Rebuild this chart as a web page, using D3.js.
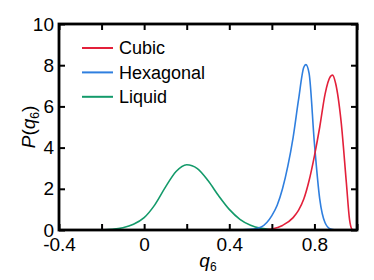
<!DOCTYPE html>
<html>
<head>
<meta charset="utf-8">
<script src="https://cdn.jsdelivr.net/npm/d3@7"></script>
<style>
  body { margin: 0; background: #fff; }
  text { font-family: "Liberation Sans", Arial, sans-serif; fill: #000; }
</style>
</head>
<body>
<div id="chart"></div>
<script>
// values
const cubicQ = [0.55, 0.6, 0.65, 0.7, 0.725, 0.75, 0.775, 0.8, 0.825, 0.85, 0.875, 0.885, 0.9, 0.925, 0.95, 0.965, 0.975, 0.98];
const cubicP = [0.0, 0.05, 0.22, 0.6, 0.95, 1.5, 2.4, 3.6, 5.0, 6.6, 7.45, 7.52, 7.1, 5.3, 2.3, 0.5, 0.05, 0.0];

const hexQ = [0.45, 0.5, 0.55, 0.6, 0.625, 0.65, 0.675, 0.7, 0.725, 0.75, 0.76, 0.775, 0.8, 0.825, 0.85, 0.875, 0.9];
const hexP = [0.0, 0.03, 0.15, 0.7, 1.2, 2.0, 3.1, 4.5, 6.3, 7.9, 8.03, 7.6, 4.2, 1.5, 0.35, 0.05, 0.0];

const liqQ = [-0.2, -0.15, -0.1, -0.05, 0.0, 0.05, 0.1, 0.15, 0.2, 0.25, 0.3, 0.35, 0.4, 0.45, 0.5, 0.55, 0.6, 0.65];
const liqP = [0.0, 0.03, 0.11, 0.28, 0.6, 1.22, 2.08, 2.84, 3.17, 2.98, 2.4, 1.66, 1.0, 0.52, 0.23, 0.08, 0.02, 0.0];

const seriesNames = ["Cubic", "Hexagonal", "Liquid"];
const colors = ["#e3203a", "#2f7fdf", "#139a6a"];
const xTicks = [-0.4, -0.2, 0, 0.2, 0.4, 0.6, 0.8, 1.0];
const xTickLabels = ["-0.4", "", "0", "", "0.4", "", "0.8", ""];
const yTicks = [0, 2, 4, 6, 8, 10];

const width = 374, height = 280;
const margin = { top: 24, right: 17, bottom: 50, left: 59 };
const w = width - margin.left - margin.right;
const h = height - margin.top - margin.bottom;

const svg = d3.select("#chart")
  .append("svg")
  .attr("width", width)
  .attr("height", height)
  .append("g")
  .attr("transform", "translate(" + margin.left + "," + margin.top + ")");

const x = d3.scaleLinear().domain([-0.4, 1.0]).range([0, w]);
const y = d3.scaleLinear().domain([0, 10]).range([h, 0]);

// clip so curves stay in the frame
svg.append("clipPath").attr("id", "clip")
  .append("rect").attr("width", w).attr("height", h);

const line = d3.line()
  .x(d => x(d[0]))
  .y(d => y(d[1]))
  .curve(d3.curveMonotoneX);

const series = [
  d3.zip(cubicQ, cubicP),
  d3.zip(hexQ, hexP),
  d3.zip(liqQ, liqP)
];

// draw liquid first, cubic on top of hexagonal like the picture
[2, 1, 0].forEach(i => {
  svg.append("path")
    .datum(series[i])
    .attr("clip-path", "url(#clip)")
    .attr("fill", "none")
    .attr("stroke", colors[i])
    .attr("stroke-width", 1.6)
    .attr("d", line);
});

// axes, ticks pointing inward on all four sides
const tickStyle = g => {
  g.select(".domain").remove();
  g.selectAll(".tick line").attr("stroke", "#000").attr("stroke-width", 2);
  g.selectAll(".tick text").style("font-size", "19px");
};

svg.append("g")
  .attr("transform", "translate(0," + h + ")")
  .call(d3.axisBottom(x).tickValues(xTicks).tickSize(-6).tickPadding(8)
    .tickFormat((d, i) => xTickLabels[i]))
  .call(tickStyle);

svg.append("g")
  .call(d3.axisTop(x).tickValues(xTicks).tickSize(-6).tickFormat(""))
  .call(tickStyle);

svg.append("g")
  .call(d3.axisLeft(y).tickValues(yTicks).tickSize(-6).tickPadding(5).tickFormat(d3.format("d")))
  .call(tickStyle);

svg.append("g")
  .attr("transform", "translate(" + w + ",0)")
  .call(d3.axisRight(y).tickValues(yTicks).tickSize(-6).tickFormat(""))
  .call(tickStyle);

svg.append("rect")
  .attr("width", w)
  .attr("height", h)
  .attr("fill", "none")
  .attr("stroke", "#000")
  .attr("stroke-width", 2.8);

// axis titles
const xt = svg.append("text")
  .attr("x", w / 2)
  .attr("y", h + 37)
  .attr("text-anchor", "middle")
  .style("font-size", "19px");
xt.append("tspan").style("font-style", "italic").text("q");
xt.append("tspan").attr("dy", 4).style("font-size", "12px").text("6");

const yt = svg.append("text")
  .attr("transform", "translate(-24," + (h / 2) + ") rotate(-90)")
  .attr("text-anchor", "middle")
  .style("font-size", "19px");
yt.append("tspan").style("font-style", "italic").text("P");
yt.append("tspan").text("(");
yt.append("tspan").style("font-style", "italic").text("q");
yt.append("tspan").attr("dy", 4).style("font-size", "12px").text("6");
yt.append("tspan").attr("dy", -4).text(")");

// legend
const legend = svg.append("g").attr("transform", "translate(23,24)");
seriesNames.forEach((name, i) => {
  const row = legend.append("g").attr("transform", "translate(0," + (i * 24.4) + ")");
  row.append("line")
    .attr("x1", 0).attr("x2", 31)
    .attr("stroke", colors[i])
    .attr("stroke-width", 2);
  row.append("text")
    .attr("x", 37)
    .attr("dy", "0.35em")
    .style("font-size", "18px")
    .text(name);
});
</script>
</body>
</html>
